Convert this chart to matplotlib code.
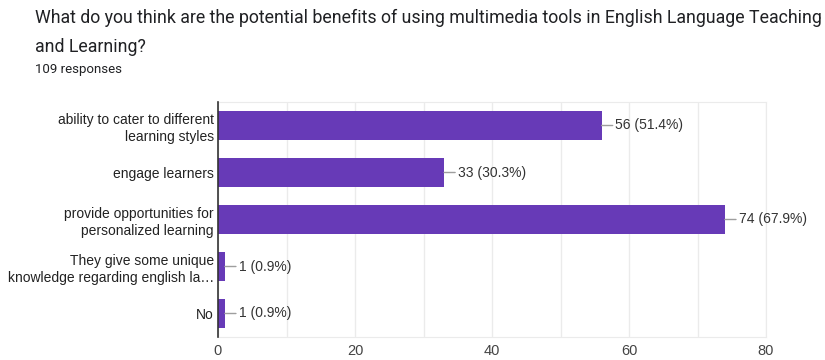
import matplotlib
matplotlib.use("Agg")
import matplotlib.pyplot as plt

plt.rcParams['font.family'] = ['Liberation Sans', 'DejaVu Sans']

title = "What do you think are the potential benefits of using multimedia tools in English Language Teaching\nand Learning?"
subtitle = "109 responses"
categories = ["ability to cater to different\nlearning styles",
              "engage learners",
              "provide opportunities for\npersonalized learning",
              "They give some unique\nknowledge regarding english la\u2026",
              "No"]
counts = [56, 33, 74, 1, 1]
percents = [51.4, 30.3, 67.9, 0.9, 0.9]
xticks = [0, 20, 40, 60, 80]

fig = plt.figure(figsize=(8.25, 3.6), dpi=100)
ax = fig.add_axes([218/825, 23/360, (766-218)/825, (337-102)/360])

y = list(range(len(categories)))
ax.barh(y, counts, height=0.6, color='#673AB7', zorder=3)
ax.set_ylim(len(categories) - 0.5, -0.5)
ax.set_xlim(0, 80)
ax.set_yticks(y)
ax.set_yticklabels(categories, fontsize=10, color='#222222', linespacing=1.3)
ax.set_xticks(xticks)
ax.set_xticklabels([str(t) for t in xticks], fontsize=10.5, color='#444444')
ax.set_xticks(range(10, 80, 20), minor=True)
ax.tick_params(axis='y', length=0, pad=3)
ax.tick_params(axis='x', which='both', length=0, pad=5)
ax.grid(axis='x', which='both', color='#ebebeb', linewidth=1, zorder=0)

for s in ['top', 'right', 'bottom']:
    ax.spines[s].set_color('#ebebeb')
ax.spines['left'].set_color('#333333')
ax.spines['left'].set_linewidth(1.2)
ax.spines['left'].set_zorder(4)

for i, (c, p) in enumerate(zip(counts, percents)):
    ax.annotate(f"{c} ({p}%)", xy=(c, i), xytext=(10, 0), textcoords='offset points',
                ha='left', va='center', fontsize=10, color='#333333',
                arrowprops=dict(arrowstyle='-', color='#9e9e9e', lw=1, shrinkA=0, shrinkB=0))

fig.text(35/825, 1 - 9/360, title, fontsize=12.8, color='#202124', va='top', ha='left',
         linespacing=1.75, family=['Roboto', 'DejaVu Sans'])
fig.text(35/825, 1 - 63/360, subtitle, fontsize=9.5, color='#202124', va='top', ha='left',
         family=['Roboto', 'DejaVu Sans'])

fig.savefig("out.png", dpi=100, facecolor='white')
